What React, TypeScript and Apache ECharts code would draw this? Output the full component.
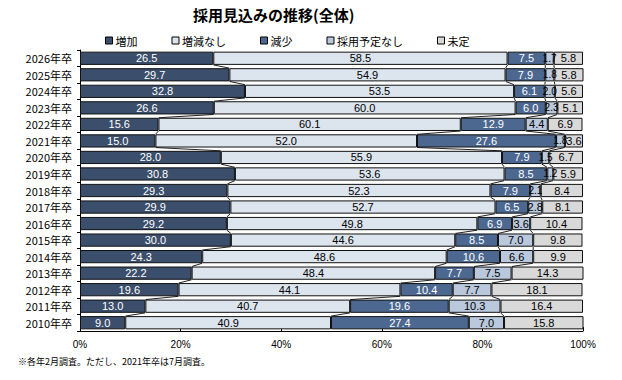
import React, { useEffect, useRef } from "react";
import * as echarts from "echarts";

const categories = [
  "2026年卒", "2025年卒", "2024年卒", "2023年卒", "2022年卒", "2021年卒",
  "2020年卒", "2019年卒", "2018年卒", "2017年卒", "2016年卒", "2015年卒",
  "2014年卒", "2013年卒", "2012年卒", "2011年卒", "2010年卒",
];
const increase = [26.5, 29.7, 32.8, 26.6, 15.6, 15.0, 28.0, 30.8, 29.3, 29.9, 29.2, 30.0, 24.3, 22.2, 19.6, 13.0, 9.0];
const noChange = [58.5, 54.9, 53.5, 60.0, 60.1, 52.0, 55.9, 53.6, 52.3, 52.7, 49.8, 44.6, 48.6, 48.4, 44.1, 40.7, 40.9];
const decrease = [7.5, 7.9, 6.1, 6.0, 12.9, 27.6, 7.9, 8.5, 7.9, 6.5, 6.9, 8.5, 10.6, 7.7, 10.4, 19.6, 27.4];
const noPlan = [1.7, 1.8, 2.0, 2.3, 4.4, 1.8, 1.5, 1.2, 2.1, 2.8, 3.6, 7.0, 6.6, 7.5, 7.7, 10.3, 7.0];
const undecided = [5.8, 5.8, 5.6, 5.1, 6.9, 3.6, 6.7, 5.9, 8.4, 8.1, 10.4, 9.8, 9.9, 14.3, 18.1, 16.4, 15.8];
const seriesNames = ["増加", "増減なし", "減少", "採用予定なし", "未定"];
const xTicks = ["0%", "20%", "40%", "60%", "80%", "100%"];

const colors = ["#3b4e6c", "#dce4ee", "#4c6890", "#b9c8dc", "#d9d9d9"];
const labelColors = ["#ffffff", "#000000", "#ffffff", "#000000", "#000000"];
const BAR_RATIO = 0.8;

export default function App() {
  const ref = useRef<HTMLDivElement>(null);
  useEffect(() => {
    if (!ref.current) return;
    const chart = echarts.init(ref.current, undefined, { renderer: "svg" });
    const all = [increase, noChange, decrease, noPlan, undecided];

    // connector data: [x at row i, row i, x at row i+1]
    const connectors: number[][] = [];
    for (let k = 1; k <= 4; k++) {
      for (let i = 0; i < categories.length - 1; i++) {
        let c1 = 0, c2 = 0;
        for (let s = 0; s < k; s++) { c1 += all[s][i]; c2 += all[s][i + 1]; }
        connectors.push([c1, i, c2]);
      }
    }

    const barSeries = all.map((vals, s) => ({
      name: seriesNames[s],
      type: "bar",
      stack: "total",
      barWidth: "80%",
      data: vals.map((v) => ({
        value: v,
        label: v < 2.5 ? { fontSize: 10 } : undefined,
      })),
      itemStyle: { color: colors[s], borderColor: "#111", borderWidth: 1 },
      label: {
        show: true,
        position: "inside",
        color: labelColors[s],
        fontSize: 11,
        fontFamily: "Liberation Sans, Arial",
        formatter: (p: any) => Number(p.value).toFixed(1),
      },
      z: 3,
    }));

    const connectorSeries = {
      type: "custom",
      coordinateSystem: "cartesian2d",
      silent: true,
      z: 2,
      encode: { x: 0, y: 1 },
      data: connectors,
      renderItem: (params: any, api: any) => {
        const x1 = api.value(0);
        const i = api.value(1);
        const x2 = api.value(2);
        const p1 = api.coord([x1, i]);
        const p2 = api.coord([x2, i + 1]);
        const band = api.size([0, 1])[1];
        const h = (band * BAR_RATIO) / 2;
        return {
          type: "line",
          shape: { x1: p1[0], y1: p1[1] + h, x2: p2[0], y2: p2[1] - h },
          style: { stroke: "#222", lineWidth: 1 },
        };
      },
    };

    chart.setOption({
      animation: false,
      title: {
        text: "採用見込みの推移(全体)",
        left: 188,
        top: 2,
        textStyle: { fontSize: 15, fontWeight: "bold", color: "#000", fontFamily: "Noto Sans CJK JP" },
      },
      legend: {
        data: seriesNames,
        left: 100,
        top: 30,
        icon: "rect",
        itemWidth: 7,
        itemHeight: 7,
        itemGap: 34,
        textStyle: { fontSize: 11, color: "#000", fontFamily: "Noto Sans CJK JP", padding: [0, 0, 0, -2] },
        itemStyle: { borderColor: "#000", borderWidth: 1 },
      },
      grid: { left: 80, right: 39, top: 50, bottom: 49, containLabel: false },
      xAxis: {
        type: "value",
        min: 0,
        max: 100,
        interval: 20,
        axisLine: { show: true, lineStyle: { color: "#000" } },
        axisTick: { show: true, inside: true, length: 4, lineStyle: { color: "#000" } },
        splitLine: { show: false },
        axisLabel: {
          formatter: (v: number) => xTicks[Math.round(v / 20)],
          fontSize: 10,
          color: "#000",
          margin: 8,
          fontFamily: "Liberation Sans, Arial",
        },
      },
      yAxis: {
        type: "category",
        inverse: true,
        data: categories,
        axisLine: { show: true, lineStyle: { color: "#000" } },
        axisTick: { show: true, length: 3, lineStyle: { color: "#000" } },
        axisLabel: { fontSize: 11, color: "#000", margin: 8, fontFamily: "Noto Sans CJK JP" },
      },
      graphic: [
        {
          type: "text",
          left: 18,
          top: 357,
          style: {
            text: "※各年2月調査。ただし、2021年卒は7月調査。",
            fontSize: 9,
            fill: "#000",
            fontFamily: "Noto Sans CJK JP",
          },
        },
      ],
      series: [...barSeries, connectorSeries],
    });
    return () => chart.dispose();
  }, []);
  return <div ref={ref} style={{ width: 622, height: 380, margin: -8, background: "#fff" }} />;
}
